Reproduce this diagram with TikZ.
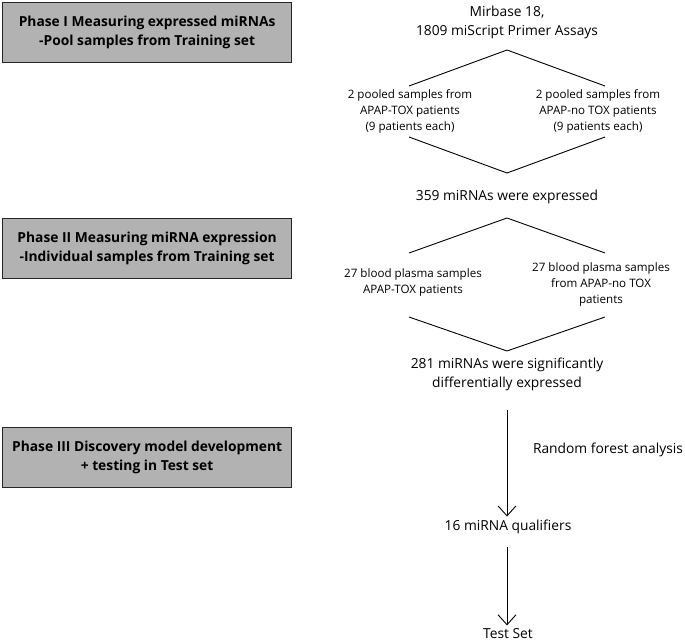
\documentclass[tikz,border=0pt]{standalone}
\usepackage{fontspec}
\setmainfont{Open Sans}
\usetikzlibrary{arrows.meta}
\begin{document}
\begin{tikzpicture}[x=1pt,y=-1pt,
  phase/.style={draw=black!85,line width=1.2pt,fill=black!30,minimum width=289pt,minimum height=60pt,anchor=north west,align=center,font=\fontsize{13.8}{19}\selectfont\bfseries},
  txt/.style={align=center,font=\fontsize{13.8}{19}\selectfont},
  small/.style={align=center,font=\fontsize{11.6}{16}\selectfont},
  ln/.style={line width=0.9pt},
  arr/.style={line width=0.9pt,-{Straight Barb[length=10pt,width=18pt,line width=0.9pt]}}]
\useasboundingbox (0,0) rectangle (685,644);
% phase boxes
\node[phase] (p1) at (2,2) {Phase I Measuring expressed miRNAs\\-Pool samples from Training set};
\node[phase] (p2) at (2,218) {Phase II Measuring miRNA expression\\-Individual samples from Training set};
\node[phase] (p3) at (2,427) {Phase III Discovery model development\\+ testing in Test set};
% phase I flow
\node[txt] (mir) at (507,22) {Mirbase 18,\\1809 miScript Primer Assays};
\node[small] (tox1) at (410,111) {2 pooled samples from\\APAP-TOX patients\\(9 patients each)};
\node[small] (notox1) at (598,111) {2 pooled samples from\\APAP-no TOX patients\\(9 patients each)};
\node[txt] (expr) at (507,197) {359 miRNAs were expressed};
\coordinate (a1) at (507,50);
\coordinate (l1) at (409,86);
\coordinate (r1) at (605,86);
\coordinate (lb1) at (409,137);
\coordinate (rb1) at (605,137);
\coordinate (b1) at (507,173);
\draw[ln] (l1) -- (a1) -- (r1);
\draw[ln] (lb1) -- (b1) -- (rb1);
% phase II flow
\node[small] (tox2) at (413,282) {27 blood plasma samples\\APAP-TOX patients};
\node[small] (notox2) at (601,284) {27 blood plasma samples\\from APAP-no TOX\\patients};
\node[txt] (sig) at (507,374) {281 miRNAs were significantly\\differentially expressed};
\coordinate (a2) at (507,218);
\coordinate (l2) at (409,253);
\coordinate (r2) at (605,253);
\coordinate (lb2) at (409,317);
\coordinate (rb2) at (605,317);
\coordinate (b2) at (507,351);
\draw[ln] (l2) -- (a2) -- (r2);
\draw[ln] (lb2) -- (b2) -- (rb2);
% phase III flow
\node[txt] (q16) at (508,527) {16 miRNA qualifiers};
\node[txt] (test) at (508,634) {Test Set};
\node[txt] (rf) at (608,450) {Random forest analysis};
\coordinate (s1) at (507,410);
\coordinate (s2) at (507,547);
\draw[arr] (s1) -- (q16.north -| s1);
\draw[arr] (s2) -- (test.north -| s2);
\end{tikzpicture}
\end{document}
